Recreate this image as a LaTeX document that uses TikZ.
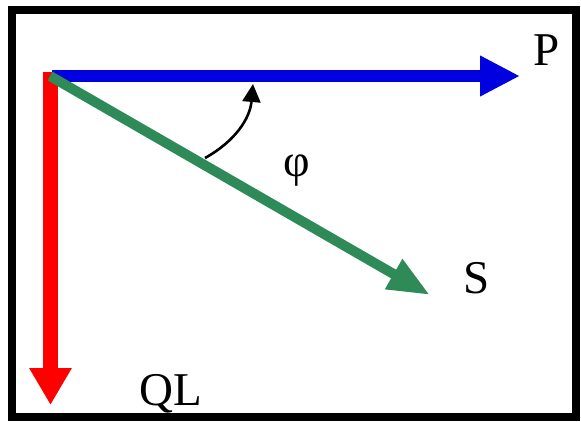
\documentclass[tikz,border=0pt]{standalone}
\usepackage{fontspec}
\setmainfont{Liberation Serif}
\usetikzlibrary{arrows.meta}
\definecolor{vblue}{RGB}{0,0,225}
\definecolor{vred}{RGB}{255,0,0}
\definecolor{vgreen}{RGB}{46,139,87}
\begin{document}
\begin{tikzpicture}[x=1pt,y=-1pt,
  vec/.style={line width=#1, line cap=butt},
  lbl/.style={inner sep=0pt, font=\fontsize{47}{50}\selectfont}]
\useasboundingbox (0,0) rectangle (581,421);
\draw[line width=8pt] (12,10) rectangle (576,417);
\coordinate (O) at (50,76);
\coordinate (Ob) at (52,76);
\coordinate (Or) at (50.5,72);
\coordinate (Pt) at (520,76);
\coordinate (St) at (430,295);
\coordinate (Qt) at (50.5,405);
\coordinate (A1) at (205,158);
\coordinate (A2) at (253,84);
\draw[vec=15pt, vred, -{Triangle[length=37pt,width=40pt]}] (Or) -- (Qt);
\draw[vec=12pt, vblue, -{Triangle[length=40pt,width=38pt]}] (Ob) -- (Pt);
\draw[vec=10pt, vgreen, -{Triangle[length=42pt,width=32pt]}] (O) -- (St);
\draw[line width=2.6pt, -{Triangle[length=18pt,width=18pt]}] (A1) to[bend right=28] (A2);
\node[lbl] (P) at (547,50) {P};
\node[lbl] (S) at (477,278) {S};
\node[lbl] (QL) at (171,394) {QL};
\node[lbl, font=\fontsize{46}{50}\selectfont] (phi) at (297,171) {φ};
\end{tikzpicture}
\end{document}
